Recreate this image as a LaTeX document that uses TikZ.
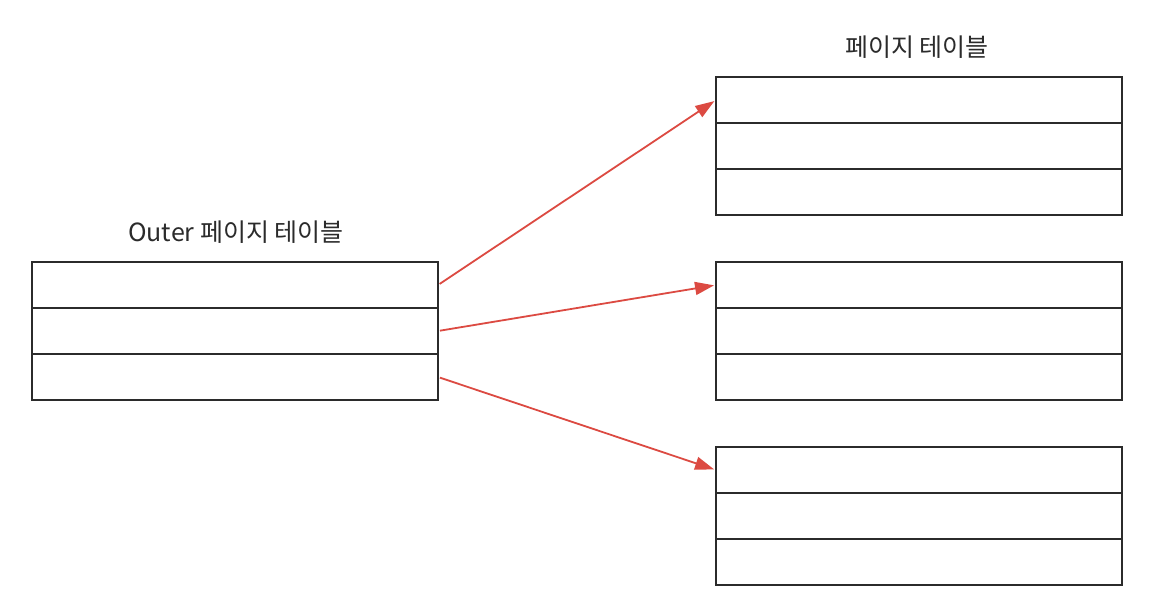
\documentclass[tikz,border=0pt]{standalone}
\usepackage{fontspec}
\newfontfamily\krfont{Noto Sans CJK KR}
\usetikzlibrary{arrows.meta}
\definecolor{arrowred}{HTML}{DC4A42}
\definecolor{ink}{HTML}{2B2B2B}
\tikzset{
  row/.style={draw=ink, line width=1.9pt, minimum width=406pt, minimum height=46pt, inner sep=0pt, outer sep=0pt, anchor=north west},
  lbl/.style={font=\krfont\fontsize{25}{28}\selectfont, text=ink, inner sep=0pt},
  link/.style={draw=arrowred, line width=1.8pt, -{Triangle[length=19pt,width=13pt]}, shorten >=2pt, shorten <=2pt}
}
\begin{document}
\begin{tikzpicture}[x=1pt,y=-1pt]
\useasboundingbox[fill=white] (0,0) rectangle (1154,606);
% outer table
\node[row] (o1) at (32,262) {};
\node[row] (o2) at (32,308) {};
\node[row] (o3) at (32,354) {};
\node[lbl] (olbl) at (236,232) {Outer 페이지 테이블};
% page table A
\node[row] (a1) at (716,77) {};
\node[row] (a2) at (716,123) {};
\node[row] (a3) at (716,169) {};
\node[lbl] (albl) at (917,47) {페이지 테이블};
% page table B
\node[row] (b1) at (716,262) {};
\node[row] (b2) at (716,308) {};
\node[row] (b3) at (716,354) {};
% page table C
\node[row] (c1) at (716,447) {};
\node[row] (c2) at (716,493) {};
\node[row] (c3) at (716,539) {};
% arrows
\draw[link] (o1.east) -- (a1.west);
\draw[link] (o2.east) -- (b1.west);
\draw[link] (o3.east) -- (c1.west);
\end{tikzpicture}
\end{document}
